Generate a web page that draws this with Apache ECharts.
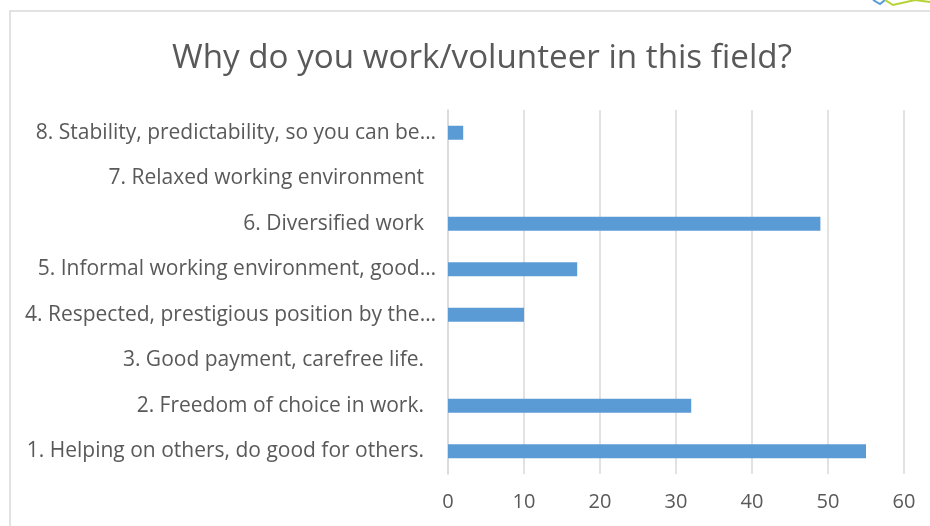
<!DOCTYPE html>
<html>
<head>
<meta charset="utf-8">
<script src="https://cdn.jsdelivr.net/npm/echarts@6/dist/echarts.min.js"></script>
<style>
  html, body { margin: 0; padding: 0; background: #fff; }
  #chart { width: 930px; height: 526px; }
</style>
</head>
<body>
<div id="chart"></div>
<script>
// Survey answers, listed bottom-to-top as they appear on the category axis
const categories = [
  '1. Helping on others, do good for others.',
  '2. Freedom of choice in work.',
  '3. Good payment, carefree life.',
  '4. Respected, prestigious position by the…',
  '5. Informal working environment, good…',
  '6. Diversified work',
  '7. Relaxed working environment',
  '8. Stability, predictability, so you can be…'
];
const responses = [55, 32, 0, 10, 17, 49, 0, 2];
const xTicks = [0, 10, 20, 30, 40, 50, 60];

const FONT = '"Open Sans", sans-serif';
const TEXT = '#595959';

const chart = echarts.init(document.getElementById('chart'), null, { renderer: 'canvas' });
chart.setOption({
  animation: false,
  backgroundColor: '#ffffff',
  title: {
    text: 'Why do you work/volunteer in this field?',
    left: 167,
    top: 37,
    textStyle: { fontFamily: FONT, fontSize: 33.2, fontWeight: 'normal', color: TEXT }
  },
  graphic: [
    { type: 'polyline', shape: { points: [[10, 526], [10, 11], [930, 11]] },
      style: { stroke: '#d9d9d9', lineWidth: 1.5, fill: null } },
    { type: 'polyline', shape: { points: [[873, 0], [880, 4], [885, 0]] },
      style: { stroke: '#5b9bd5', lineWidth: 2, fill: null } },
    { type: 'polyline', shape: { points: [[885, 0], [893, 5], [915, 0], [930, 2]] },
      style: { stroke: '#b5d334', lineWidth: 2, fill: null } }
  ],
  grid: { left: 448, right: 26, top: 110, bottom: 52, containLabel: false },
  xAxis: {
    type: 'value',
    min: xTicks[0],
    max: xTicks[xTicks.length - 1],
    interval: 10,
    axisLine: { show: false },
    axisTick: { show: false },
    splitLine: { show: true, lineStyle: { color: '#d9d9d9', width: 1.5 } },
    axisLabel: { margin: 18, fontFamily: FONT, fontSize: 20, color: TEXT }
  },
  yAxis: {
    type: 'category',
    data: categories,
    axisLine: { show: true, lineStyle: { color: '#d9d9d9', width: 1.5 } },
    axisTick: { show: false },
    axisLabel: {
      margin: 12,
      fontFamily: FONT, fontSize: 21, color: TEXT,
      formatter: function (v) {
        return v.endsWith('…') ? v : '{p|' + v + '}';
      },
      rich: { p: { fontFamily: FONT, fontSize: 21, color: TEXT, padding: [0, 12, 0, 0] } }
    }
  },
  series: [{
    type: 'bar',
    data: responses,
    barWidth: 14,
    itemStyle: { color: '#5b9bd5' }
  }]
});
</script>
</body>
</html>
